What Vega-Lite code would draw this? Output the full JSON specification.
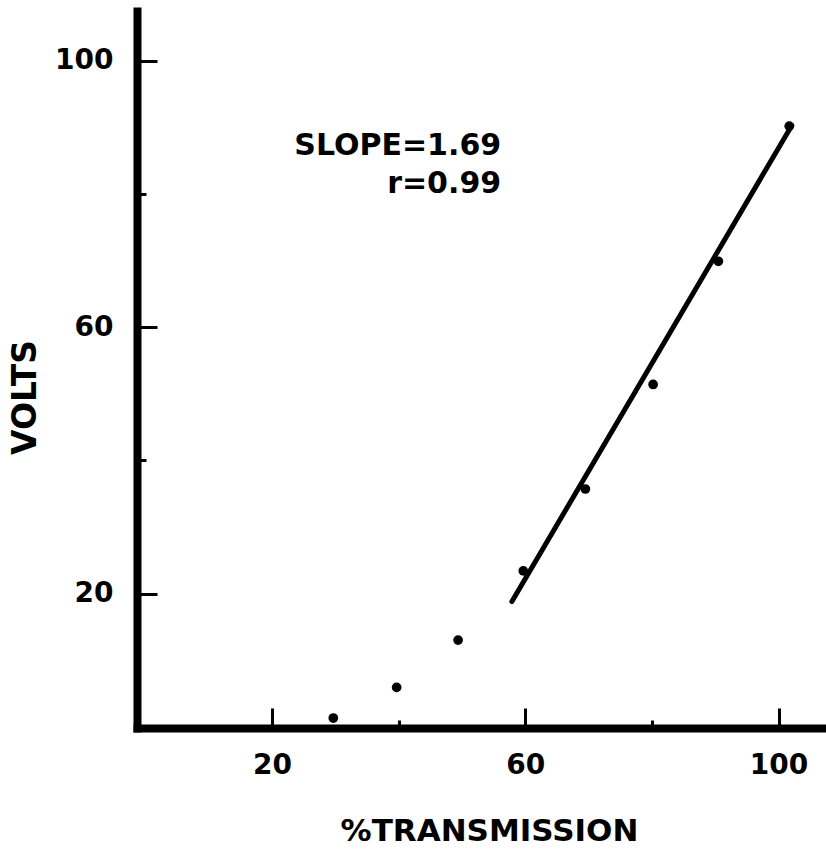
{
  "$schema": "https://vega.github.io/schema/vega-lite/v6.json",
  "autosize": "none",
  "width": 689,
  "height": 717,
  "padding": {"left": 137, "top": 11, "right": 0, "bottom": 123},
  "background": "white",
  "config": {"view": {"stroke": null}, "font": "DejaVu Sans"},
  "datasets": {
    "points": [
      {"transmission": 29.7, "volts": 1.3},
      {"transmission": 39.7, "volts": 5.9},
      {"transmission": 49.4, "volts": 13.0},
      {"transmission": 59.7, "volts": 23.4},
      {"transmission": 69.5, "volts": 35.7},
      {"transmission": 80.2, "volts": 51.4},
      {"transmission": 90.5, "volts": 69.9},
      {"transmission": 101.7, "volts": 90.2}
    ],
    "fit": [
      {"transmission": 57.9, "volts": 18.8},
      {"transmission": 102.1, "volts": 90.3}
    ],
    "notes": [
      {"transmission": 56.2, "volts": 85.8, "label": "SLOPE=1.69"},
      {"transmission": 56.2, "volts": 80.1, "label": "r=0.99"}
    ]
  },
  "layer": [
    {
      "data": {"name": "points"},
      "mark": {"type": "point", "filled": true, "color": "black", "size": 95, "opacity": 1},
      "encoding": {
        "x": {
          "field": "transmission",
          "type": "quantitative",
          "scale": {"domain": [-1.3, 107.5], "nice": false, "zero": false},
          "axis": {
            "title": "%TRANSMISSION",
            "values": [20, 40, 60, 80, 100],
            "labelExpr": "datum.value % 40 == 20 ? datum.label : ''",
            "grid": false,
            "domainColor": "black",
            "domainWidth": 8,
            "domainCap": "square",
            "tickColor": "black",
            "tickWidth": 3,
            "tickSize": {"condition": {"test": "datum.value % 40 == 20", "value": -20}, "value": -8},
            "labelFont": "DejaVu Sans",
            "labelFontWeight": "bold",
            "labelFontSize": 28,
            "labelColor": "black",
            "labelPadding": 43,
            "labelOverlap": false,
            "labelFlush": false,
            "titleFont": "DejaVu Sans",
            "titleFontWeight": "bold",
            "titleFontSize": 31,
            "titleColor": "black",
            "titleX": 352,
            "titleY": 112,
            "titleAlign": "center",
            "titleBaseline": "alphabetic"
          }
        },
        "y": {
          "field": "volts",
          "type": "quantitative",
          "scale": {"domain": [-0.2, 107.5], "nice": false, "zero": false},
          "axis": {
            "title": "VOLTS",
            "values": [20, 40, 60, 80, 100],
            "labelExpr": "datum.value % 40 == 20 ? datum.label : ''",
            "grid": false,
            "domainColor": "black",
            "domainWidth": 8,
            "domainCap": "square",
            "tickColor": "black",
            "tickWidth": 3,
            "tickSize": {"condition": {"test": "datum.value % 40 == 20", "value": -20}, "value": -9},
            "labelFont": "DejaVu Sans",
            "labelFontWeight": "bold",
            "labelFontSize": 28,
            "labelColor": "black",
            "labelPadding": 44,
            "labelOverlap": false,
            "labelFlush": false,
            "titleFont": "DejaVu Sans",
            "titleFontWeight": "bold",
            "titleFontSize": 33,
            "titleColor": "black",
            "titleX": -102,
            "titleY": 386,
            "titleAngle": -90,
            "titleAlign": "center",
            "titleBaseline": "alphabetic"
          }
        }
      }
    },
    {
      "data": {"name": "fit"},
      "mark": {"type": "line", "color": "black", "strokeWidth": 5, "strokeCap": "round"},
      "encoding": {
        "x": {"field": "transmission", "type": "quantitative"},
        "y": {"field": "volts", "type": "quantitative"}
      }
    },
    {
      "data": {"name": "notes"},
      "mark": {"type": "text", "align": "right", "baseline": "alphabetic", "fontSize": 30, "fontWeight": "bold", "font": "DejaVu Sans", "color": "black"},
      "encoding": {
        "x": {"field": "transmission", "type": "quantitative"},
        "y": {"field": "volts", "type": "quantitative"},
        "text": {"field": "label"}
      }
    }
  ]
}
